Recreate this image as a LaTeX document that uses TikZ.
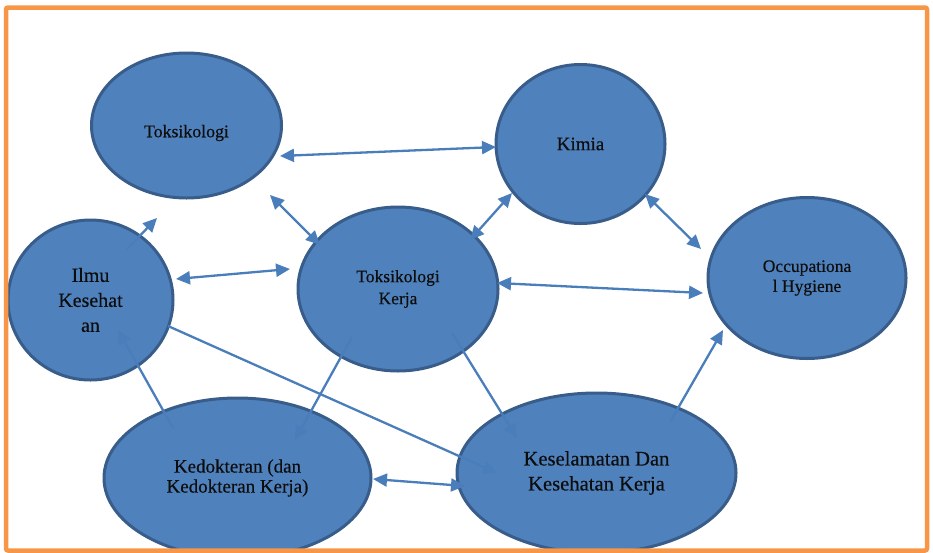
\documentclass[tikz,border=0pt]{standalone}
\usepackage{fontspec}
\setmainfont{Liberation Serif}
\newfontfamily\bubblefont{Liberation Serif}[FakeBold=0.35]
\usetikzlibrary{shapes.geometric,arrows.meta,calc}
\definecolor{bubblefill}{HTML}{4F81BD}
\definecolor{bubbleedge}{HTML}{385D8A}
\definecolor{linkblue}{HTML}{4A7EBB}
\definecolor{frameorange}{HTML}{F79646}
\definecolor{inktext}{HTML}{0D0D0D}
\tikzset{
  bubble/.style={ellipse, draw=bubbleedge, fill=bubblefill, line width=3pt,
    inner sep=0pt, align=center, text=inktext},
  caption/.style={inner sep=0pt, align=center, text=inktext},
  link/.style={draw=linkblue, line width=2.3pt,
    -{Triangle[length=14pt,width=13pt]}},
  twoway/.style={link, {Triangle[length=14pt,width=13pt]}-{Triangle[length=14pt,width=13pt]}},
  fs/.style 2 args={font=\bubblefont\fontsize{#1}{#2}\selectfont}
}
\begin{document}
\begin{tikzpicture}[x=1pt,y=-1pt]
\useasboundingbox (0,0) rectangle (933,552);

% topic bubbles
\node[bubble, minimum width=190pt, minimum height=145pt] (tox) at (186.5,125.5) {};
\node[caption, fs={17.8}{20}] (toxtext) at ($(tox)+(0,7.5)$) {Toksikologi};
\node[bubble, minimum width=169pt, minimum height=159pt, fs={19}{23}] (kim) at (580.5,144) {Kimia};
\node[bubble, minimum width=165pt, minimum height=160pt, fs={20}{25}] (ilmu) at (90.5,300) {Ilmu\\Kesehat\\an};
\node[bubble, minimum width=200pt, minimum height=164pt, fs={17.5}{22}] (tk) at (398,289) {Toksikologi\\Kerja};
\node[bubble, minimum width=198pt, minimum height=161pt, fs={17.5}{20}] (occ) at (807,278) {Occupationa\\l Hygiene};
\node[bubble, minimum width=267pt, minimum height=160pt, fs={19}{20}] (ked) at (237.5,478) {Kedokteran (dan\\Kedokteran Kerja)};
\node[bubble, minimum width=279pt, minimum height=160pt, fs={20.6}{25}] (kes) at (596.5,473) {Keselamatan Dan\\Kesehatan Kerja};

% two-way links
\draw[twoway] ($(tox)+(93.5,30.5)$) -- ($(kim)+(-84.5,3)$);
\draw[twoway] ($(tox)+(83.5,69.5)$) -- ($(tk)+(-78,-44)$);
\draw[twoway] ($(kim)+(-68.5,49)$) -- ($(tk)+(72,-49)$);
\draw[twoway] ($(kim)+(64.5,50)$) -- ($(occ)+(-106,-29)$);
\draw[twoway] ($(ilmu)+(85.5,-21)$) -- ($(tk)+(-108,-20)$);
\draw[twoway] ($(tk)+(99,-6)$) -- ($(occ)+(-104,15)$);
\draw[twoway] ($(ked)+(135.5,1)$) -- ($(kes)+(-131.5,13)$);

% one-way links
\draw[link] ($(ilmu)+(36.5,-51)$) -- ($(tox)+(-29.5,92.5)$);
\draw[link] ($(ked)+(-64.5,-50)$) -- ($(ilmu)+(27.5,30)$);
\draw[link] ($(tk)+(-46,48)$) -- ($(ked)+(57.5,-38)$);
\draw[link] ($(tk)+(54,44)$) -- ($(kes)+(-79.5,-35)$);
\draw[link] ($(ilmu)+(77.5,26)$) -- ($(kes)+(-99.5,0)$);
\draw[link] ($(kes)+(73.5,-51)$) -- ($(occ)+(-84,52)$);

% outer frame
\draw[frameorange, line width=4.5pt, rounded corners=2pt] (6,7.5) rectangle (927,550.5);
\end{tikzpicture}
\end{document}
